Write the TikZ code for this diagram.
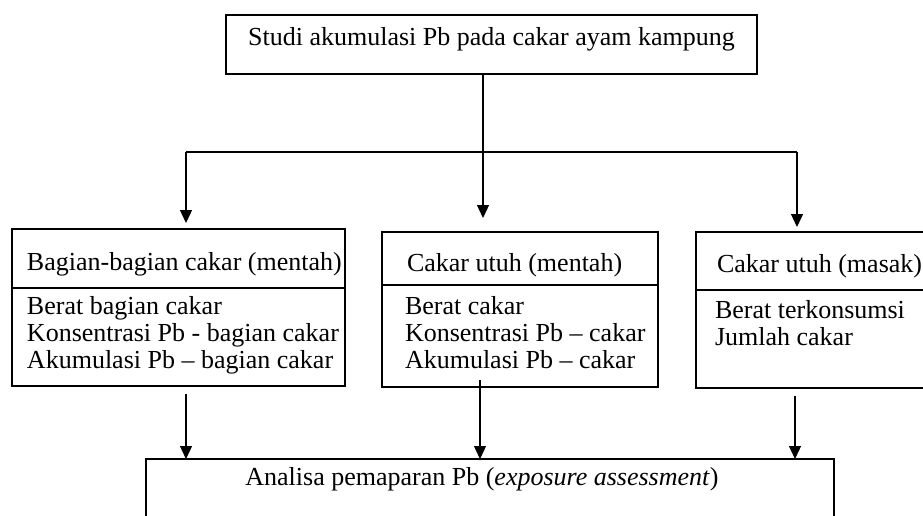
\documentclass[tikz,border=0pt]{standalone}
\usepackage{fontspec}
\setmainfont{Liberation Serif}
\usetikzlibrary{arrows.meta, positioning}

\begin{document}
\begin{tikzpicture}[->, >={Triangle[length=13pt, width=12pt]}, x=1pt, y=-1pt,
                    line width=1.3pt, font=\fontsize{26}{27}\selectfont]
  \tikzstyle{every node}=[inner sep=0pt, outer sep=0pt]
  \tikzstyle{box}=[draw, rectangle, anchor=north west]
  \tikzstyle{txt}=[anchor=base west, align=left]

  \useasboundingbox (0,0) rectangle (923,515);

  \node[box, minimum width=531, minimum height=59] (top)   at (226,15)  {};
  \node[box, minimum width=333, minimum height=59] (lhead) at (12,229)  {};
  \node[box, minimum width=333, minimum height=98] (lbody) [below=0pt of lhead] {};
  \node[box, minimum width=276, minimum height=53] (mhead) at (382,232) {};
  \node[box, minimum width=276, minimum height=102] (mbody) [below=0pt of mhead] {};
  \node[box, minimum width=240, minimum height=58] (rhead) at (696,232) {};
  \node[box, minimum width=240, minimum height=98] (rbody) [below=0pt of rhead] {};
  \node[box, minimum width=688, minimum height=70] (bottom) at (146,459) {};

  % texts (base = last line)
  \node[anchor=base] (toptext) at ([yshift=-30pt]top.north)
       {Studi akumulasi Pb pada cakar ayam kampung};
  \node[txt] (ltitle) at ([shift={(15pt,-41pt)}]lhead.north west) {Bagian-bagian cakar (mentah)};
  \node[txt] (linfo) at ([shift={(15pt,-80pt)}]lbody.north west)
       {Berat bagian cakar\\Konsentrasi Pb - bagian cakar\\Akumulasi Pb – bagian cakar};
  \node[txt] (mtitle) at ([shift={(25pt,-39pt)}]mhead.north west) {Cakar utuh (mentah)};
  \node[txt] (minfo) at ([shift={(23pt,-83pt)}]mbody.north west)
       {Berat cakar\\Konsentrasi Pb – cakar\\Akumulasi Pb – cakar};
  \node[txt] (rtitle) at ([shift={(21pt,-40pt)}]rhead.north west) {Cakar utuh (masak)};
  \node[txt] (rinfo) at ([shift={(19pt,-55pt)}]rbody.north west)
       {Berat terkonsumsi\\Jumlah cakar};
  \node[anchor=base] (btext) at ([shift={(-8pt,-26pt)}]bottom.north)
       {Analisa pemaparan Pb (\textit{exposure assessment})};

  % connectors
  \coordinate (hub) at (483,152);
  \coordinate (hl)  at (186,152);
  \coordinate (hr)  at (797,152);
  \draw[-] (top.south -| hub) -- (hub);
  \draw[-] (hl) -- (hr);
  \draw[shorten >=6pt]  (hl)  -- (hl |- lhead.north);
  \draw[shorten >=14pt] (hub) -- (hub |- mhead.north);
  \draw[shorten >=5pt]  (hr)  -- (hr |- rhead.north);

  \draw[shorten <=8pt] (lbody.south -| hl) -- (bottom.north -| hl);
  \draw[shorten <=-7pt] (mbody.south -| 480,0) -- (bottom.north -| 480,0);
  \draw[shorten <=8pt] (rbody.south -| 795,0) -- (bottom.north -| 795,0);
\end{tikzpicture}
\end{document}
